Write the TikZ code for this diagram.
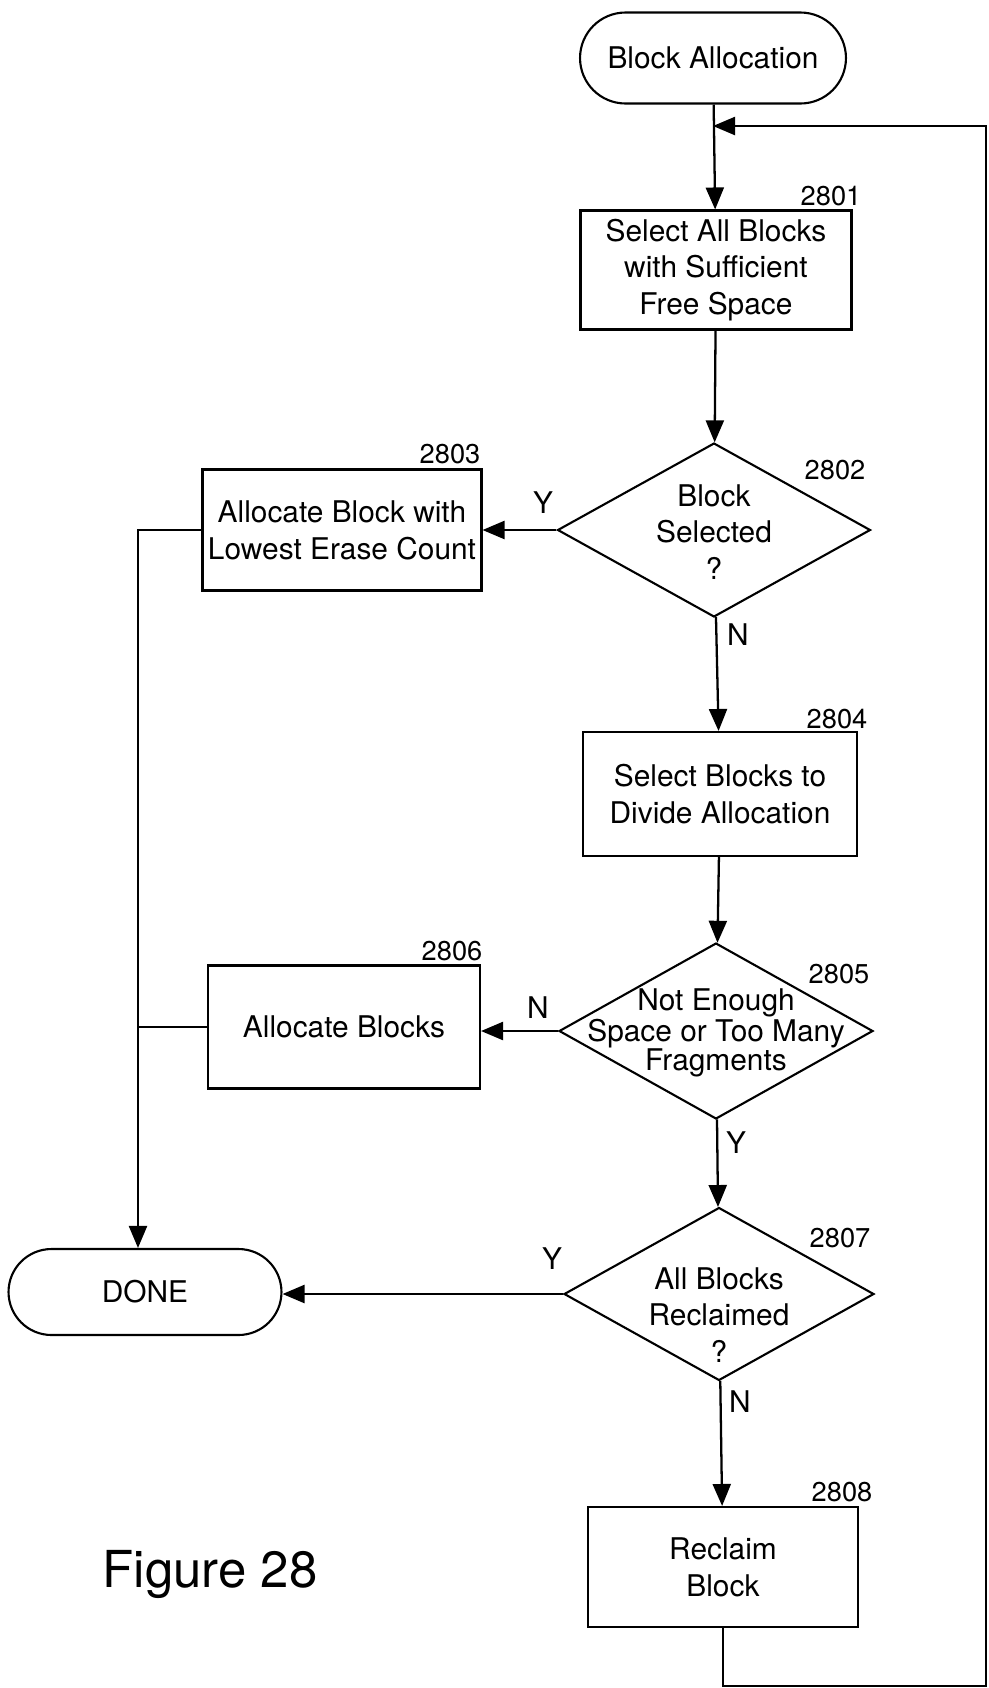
\documentclass[tikz,border=0pt]{standalone}
\usepackage{fontspec}
\setmainfont{TeX Gyre Heros}
\usetikzlibrary{shapes.geometric,shapes.misc,arrows.meta}
\begin{document}
\begin{tikzpicture}[x=0.02cm,y=-0.02cm,
  every node/.style={font=\fontsize{17}{21}\selectfont},
  box/.style={draw, line width=1.2pt, rectangle, align=center, inner sep=0pt},
  dia/.style={draw, line width=1.2pt, diamond, inner sep=0pt},
  term/.style={draw, line width=1.2pt, rounded rectangle, inner sep=0pt},
  num/.style={font=\fontsize{15.5}{18}\selectfont, inner sep=0pt},
  yn/.style={font=\fontsize{17}{20}\selectfont, inner sep=0pt},
  txt/.style={align=center, inner sep=0pt},
  arr/.style={line width=1.3pt, -{Triangle[length=0.44cm,width=0.36cm]}},
  ln/.style={line width=1.3pt}
]
\useasboundingbox (0,0) rectangle (988,1688);

% nodes
\node[term, minimum width=5.32cm, minimum height=1.82cm] (start) at (713,58) {Block Allocation};
\node[box, minimum width=5.42cm, minimum height=2.38cm] (b1) at (716,270) {Select All Blocks\\with Sufficient\\Free Space};
\node[dia, minimum width=6.26cm, minimum height=3.48cm] (d2) at (714,530) {};
\node[txt] (t2) at (714,532) {Block\\Selected\\?};
\node[box, minimum width=5.58cm, minimum height=2.42cm] (b3) at (342,530) {Allocate Block with\\Lowest Erase Count};
\node[box, minimum width=5.48cm, minimum height=2.48cm] (b4) at (720,794) {Select Blocks to\\Divide Allocation};
\node[dia, minimum width=6.28cm, minimum height=3.52cm] (d5) at (716,1031) {};
\node[txt, font=\fontsize{17}{16.4}\selectfont] (t5) at (716,1033) {Not Enough\\Space or Too Many\\Fragments};
\node[box, minimum width=5.44cm, minimum height=2.46cm] (b6) at (344,1027) {Allocate Blocks};
\node[dia, minimum width=6.2cm, minimum height=3.46cm] (d7) at (719,1294) {};
\node[txt] (t7) at (719,1315) {All Blocks\\Reclaimed\\?};
\node[term, minimum width=5.46cm, minimum height=1.72cm] (done) at (145,1292) {DONE};
\node[box, minimum width=5.4cm, minimum height=2.4cm] (b8) at (723,1567) {Reclaim\\Block};
\node[font=\fontsize{29}{34}\selectfont, inner sep=0pt] (fig) at (210,1574) {Figure 28};

% reference numbers
\node[num] (n1) at (831,196) {2801};
\node[num] (n2) at (835,470) {2802};
\node[num] (n3) at (450,454) {2803};
\node[num] (n4) at (837,719) {2804};
\node[num] (n5) at (839,974) {2805};
\node[num] (n6) at (452,951) {2806};
\node[num] (n7) at (840,1238) {2807};
\node[num] (n8) at (842,1492) {2808};

% Y/N labels
\node[yn] (y2) at (543,503) {Y};
\node[yn] (nn2) at (738,635) {N};
\node[yn] (nn5) at (538,1008) {N};
\node[yn] (y5) at (736,1143) {Y};
\node[yn] (y7) at (552,1259) {Y};
\node[yn] (nn7) at (740,1402) {N};

% helper coordinates
\coordinate (j) at (713,126);
\coordinate (lx) at (138,0);
\coordinate (br) at (986,1686);
\coordinate (tr) at (986,126);

% connectors
\draw[arr] (start) -- (b1);
\draw[arr] (b1) -- (d2);
\draw[arr] (d2.west) -- (b3.east |- d2.west);
\draw[arr] (d2) -- (b4);
\draw[arr] (b4) -- (d5);
\draw[arr] (d5.west) -- (b6.east |- d5.west);
\draw[arr] (d5) -- (d7);
\draw[arr] (d7.west) -- (done.east |- d7.west);
\draw[arr] (d7) -- (b8);
\draw[arr] (b3.west) -- (b3.west -| lx) -- (lx |- done.north);
\draw[ln] (b6.west) -- (b6.west -| lx);
\draw[arr] (b8.south) -- (b8.south |- br) -- (br) -- (tr) -- (j);
\end{tikzpicture}
\end{document}
